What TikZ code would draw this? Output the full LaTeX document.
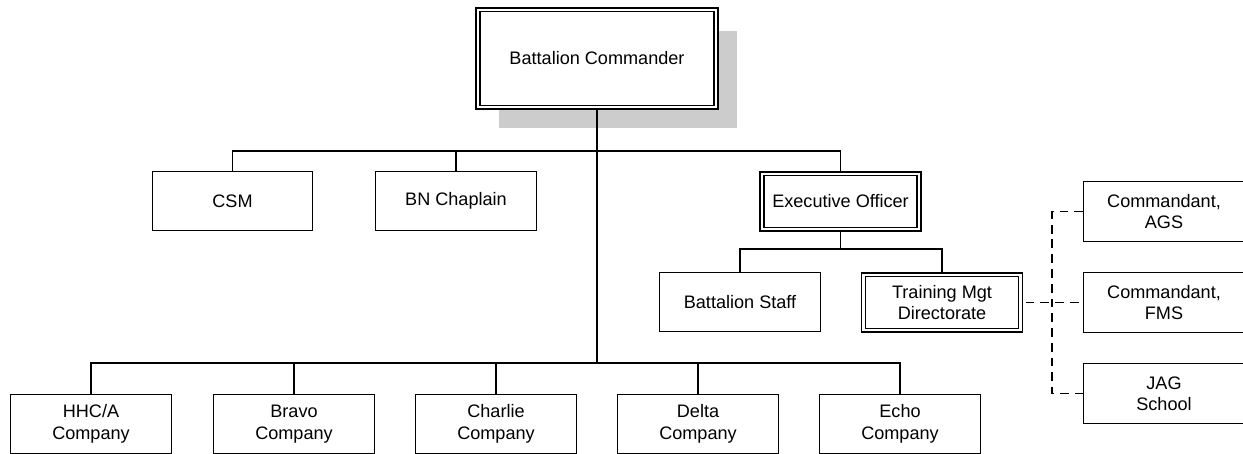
\documentclass[tikz,border=0pt]{standalone}
\usepackage{fontspec}
\setmainfont{Liberation Sans}
\usetikzlibrary{shadows}
\begin{document}
\begin{tikzpicture}[x=0.02cm, y=-0.02cm,
    unit/.style={draw, fill=white, line width=0.8pt, minimum width=3.21cm, minimum height=1.19cm,
                 inner sep=0pt, align=center, font=\fontsize{10.3}{12.2}\selectfont},
    keyunit/.style={unit, double, double distance=1.4pt, minimum width=3.14cm, minimum height=1.11cm},
    link/.style={line width=0.8pt},
    staffline/.style={line width=0.8pt, dash pattern=on 5pt off 3.4pt}]
                    \path[use as bounding box, clip] (0,0) rectangle (1243,453);

                    % Commander
                    \node[keyunit, minimum width=4.76cm, minimum height=1.95cm,
                          drop shadow={shadow xshift=0.42cm, shadow yshift=-0.42cm, fill=gray!40, opacity=1}]
                          (bc) at (597,58.5) {Battalion Commander};

                    % Special staff and XO
                    \node[unit] (csm) at (232.5,201) {CSM};
                    \node[unit] (chap) at (456,201) {BN Chaplain};
                    \node[keyunit] (xo) at (840.5,201.5) {Executive Officer};

                    % Under the XO
                    \node[unit] (bstaff) at (740,302) {Battalion Staff};
                    \node[keyunit] (tmd) at (942,302.5) {Training Mgt\\Directorate};

                    % Schools
                    \node[unit] (ags) at (1164,211.5) {Commandant,\\AGS};
                    \node[unit] (fms) at (1164,302.5) {Commandant,\\FMS};
                    \node[unit] (jag) at (1164,393.5) {JAG\\School};

                    % Companies
                    \node[unit] (hhc) at (91,424) {HHC/A\\Company};
                    \node[unit] (bravo) at (294,424) {Bravo\\Company};
                    \node[unit] (charlie) at (496,424) {Charlie\\Company};
                    \node[unit] (delta) at (698,424) {Delta\\Company};
                    \node[unit] (echo) at (900,424) {Echo\\Company};

                    % Lines
                    \coordinate (stbar) at (597,151);
                    \coordinate (cobar) at (597,363);
                    \coordinate (xobar) at (840.5,249);
                    \coordinate (dbar) at (1052,302.5);
                    \draw[line width=1.4pt] (bc.south) -- (cobar);
                    \draw[link] (csm.north) |- (stbar) -| (xo.north);
                    \draw[link] (chap.north) -- (chap.north |- stbar);
                    \draw[link] (hhc.north) |- (cobar) -| (echo.north);
                    \draw[link] (bravo.north) -- (bravo.north |- cobar);
                    \draw[link] (charlie.north) -- (charlie.north |- cobar);
                    \draw[link] (delta.north) -- (delta.north |- cobar);
                    \draw[link] (xo.south) -- (xobar);
                    \draw[link] (bstaff.north) |- (xobar) -| (tmd.north);

                    % Dashed links to schools
                    \draw[staffline, shorten <=2.5pt] (tmd.east) -- (fms.west);
                    \draw[staffline] (ags.west) -| (dbar) |- (jag.west);
                \end{tikzpicture}
\end{document}
